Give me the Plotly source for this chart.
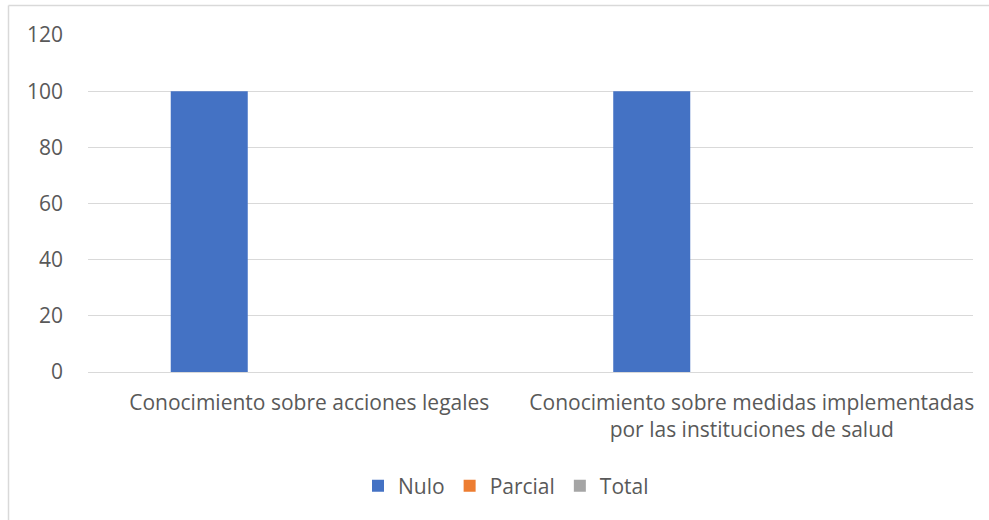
import plotly.graph_objects as go

categories = ["Conocimiento sobre acciones legales",
              "Conocimiento sobre medidas implementadas<br>por las instituciones de salud"]
series_names = ["Nulo", "Parcial", "Total"]
nulo = [100, 100]
parcial = [0, 0]
total = [0, 0]
colors = ["#4472C4", "#ED7D31", "#A5A5A5"]
y_ticks = [0, 20, 40, 60, 80, 100, 120]

W, H = 989, 520
ml, mt = 88, 35
mr = W - 973
mb = H - 372
pw, ph = W - ml - mr, H - mt - mb

fig = go.Figure()
for name, vals, c in zip(series_names, [nulo, parcial, total], colors):
    fig.add_trace(go.Bar(x=categories, y=vals, name=name, marker_color=c,
                         marker_line_width=0))

font = dict(family="Open Sans, Lato, sans-serif", size=21, color="#595959")

left_x = (8.5 - ml) / pw
top_y = 1 + (mt - 5.5) / ph
bot_y = -(mb) / ph - 0.1
right_x = 1 + mr / pw + 0.1

leg_x = (506 - ml) / pw
leg_y = -(486 - 372) / ph

fig.update_layout(
    width=W, height=H,
    margin=dict(l=ml, r=mr, t=mt, b=mb),
    paper_bgcolor="white", plot_bgcolor="white",
    barmode="group", bargap=0.322, bargroupgap=0.23,
    font=font,
    showlegend=True,
    legend=dict(orientation="h", x=leg_x, xanchor="center", y=leg_y, yanchor="middle",
                font=font, itemwidth=30, traceorder="normal"),
    xaxis=dict(showgrid=False, showline=False, ticks="", tickfont=font,
               zeroline=False, ticklabelstandoff=16),
    yaxis=dict(range=[0, 120], tickvals=y_ticks, showgrid=True, gridcolor="#D9D9D9",
               gridwidth=1, zeroline=True, zerolinecolor="#D9D9D9", zerolinewidth=1,
               showline=False, ticks="", tickfont=font, ticklabelstandoff=24),
    shapes=[
        dict(type="line", xref="paper", yref="paper", x0=left_x, x1=left_x,
             y0=bot_y, y1=top_y, line=dict(color="#D9D9D9", width=1.5)),
        dict(type="line", xref="paper", yref="paper", x0=left_x, x1=right_x,
             y0=top_y, y1=top_y, line=dict(color="#D9D9D9", width=1.5)),
    ],
)

fig.write_html("out.html",
               config={"displayModeBar": False},
               post_script="document.body.style.margin='0';")
